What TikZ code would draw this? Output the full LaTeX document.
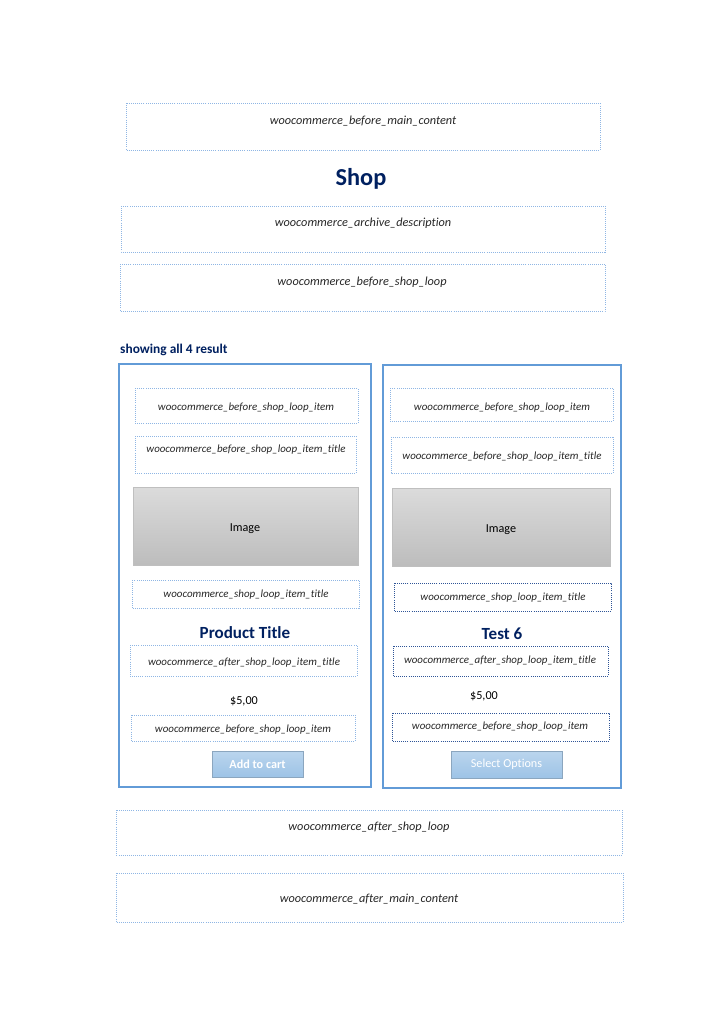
\documentclass[tikz,border=0pt]{standalone}
\usepackage{fontspec}
\setmainfont{Carlito}[Ligatures=NoCommon]
\usetikzlibrary{positioning}

\definecolor{hookblue}{RGB}{143,182,228}
\definecolor{hookdark}{RGB}{47,85,151}
\definecolor{cardblue}{RGB}{98,155,215}
\definecolor{navy}{RGB}{0,32,96}
\definecolor{hooktext}{RGB}{38,38,38}
\definecolor{btnblue}{RGB}{157,195,230}

\tikzset{
  hookbox/.style={draw=hookblue, densely dotted, line width=0.7pt},
  hookdarkbox/.style={draw=hookdark, densely dotted, line width=0.7pt},
  card/.style={draw=cardblue, line width=1pt},
  hook/.style={font=\fontsize{10.1}{12}\selectfont\itshape, text=hooktext, inner sep=0pt, yshift=-1.2pt},
  cardhook/.style={font=\fontsize{9}{11}\selectfont\itshape, text=hooktext, inner sep=0pt, yshift=-1.2pt},
  imagebox/.style={draw=black!25, top color=black!14, bottom color=black!26},
  button/.style={draw=btnblue!80!black!90, top color=btnblue!70, bottom color=btnblue, text=white, inner sep=0pt},
  title/.style={font=\bfseries, text=navy, inner sep=0pt, yshift=-1.2pt},
  plain/.style={font=\fontsize{10}{12}\selectfont, text=black, inner sep=0pt, yshift=-1.2pt}
}

\begin{document}
\begin{tikzpicture}[x=0.822pt, y=-0.822pt]
  \useasboundingbox (0,0) rectangle (724,1024);

  % page hooks before the loop
  \draw[hookbox] (126,103) rectangle (600,150);
  \node[hook] (beforemain) at (363,120) {woocommerce\_before\_main\_content};
  \node[title, font=\fontsize{20}{24}\selectfont\bfseries] (shop) at (361,177) {Shop};
  \draw[hookbox] (121,206) rectangle (605,252);
  \node[hook] (archive) at (363,222) {woocommerce\_archive\_description};
  \draw[hookbox] (120,264) rectangle (605,311);
  \node[hook] (beforeloop) at (362,281) {woocommerce\_before\_shop\_loop};

  \node[title, font=\fontsize{11}{13}\selectfont\bfseries, anchor=west] (count) at (120,348) {showing all 4 result};

  % left product card
  \draw[card] (119,364) rectangle (371,787);
  \draw[hookbox] (135,388) rectangle (358,423);
  \node[cardhook] (litem) at (246,406) {woocommerce\_before\_shop\_loop\_item};
  \draw[hookbox] (135,436) rectangle (356,473);
  \node[cardhook] (litemtitle) at (246,448) {woocommerce\_before\_shop\_loop\_item\_title};
  \draw[imagebox] (133,487) rectangle (358,565);
  \node[plain] (limage) at (245,527) {Image};
  \draw[hookbox] (132,580) rectangle (359,608);
  \node[cardhook] (lloop) at (246,593) {woocommerce\_shop\_loop\_item\_title};
  \node[title, font=\fontsize{14}{17}\selectfont\bfseries] (lname) at (245,631) {Product Title};
  \draw[hookbox] (130,645) rectangle (357,676);
  \node[cardhook] (lafter) at (244,661) {woocommerce\_after\_shop\_loop\_item\_title};
  \node[plain] (lprice) at (244,700) {\$5,00};
  \draw[hookbox] (131,715) rectangle (355,741);
  \node[cardhook] (lbefore) at (243,728) {woocommerce\_before\_shop\_loop\_item};
  \node[button, minimum width=91*0.822pt, minimum height=26*0.822pt,
        font=\fontsize{10}{12}\selectfont\bfseries] (lbutton) at (257.5,764) {Add to cart};

  % right product card
  \draw[card] (383,365) rectangle (621,788);
  \draw[hookbox] (390,388) rectangle (613,421);
  \node[cardhook] (ritem) at (502,406) {woocommerce\_before\_shop\_loop\_item};
  \draw[hookbox] (391,437) rectangle (613,473);
  \node[cardhook] (ritemtitle) at (502,455) {woocommerce\_before\_shop\_loop\_item\_title};
  \draw[imagebox] (392,488) rectangle (610,566);
  \node[plain] (rimage) at (501,528) {Image};
  \draw[hookdarkbox] (394,583) rectangle (611,611);
  \node[cardhook] (rloop) at (503,596) {woocommerce\_shop\_loop\_item\_title};
  \node[title, font=\fontsize{14}{17}\selectfont\bfseries] (rname) at (502,632) {Test 6};
  \draw[hookdarkbox] (393,646) rectangle (608,676);
  \node[cardhook] (rafter) at (500,659) {woocommerce\_after\_shop\_loop\_item\_title};
  \node[plain] (rprice) at (484,695) {\$5,00};
  \draw[hookdarkbox] (392,713) rectangle (609,741);
  \node[cardhook] (rbefore) at (500,725) {woocommerce\_before\_shop\_loop\_item};
  \node[button, minimum width=111*0.822pt, minimum height=27*0.822pt,
        font=\fontsize{10}{12}\selectfont] (rbutton) at (506.5,764.5) {Select Options};

  % page hooks after the loop
  \draw[hookbox] (116,810) rectangle (622,855);
  \node[hook] (afterloop) at (369,826) {woocommerce\_after\_shop\_loop};
  \draw[hookbox] (116,873) rectangle (623,922);
  \node[hook] (aftermain) at (369,898) {woocommerce\_after\_main\_content};
\end{tikzpicture}
\end{document}
